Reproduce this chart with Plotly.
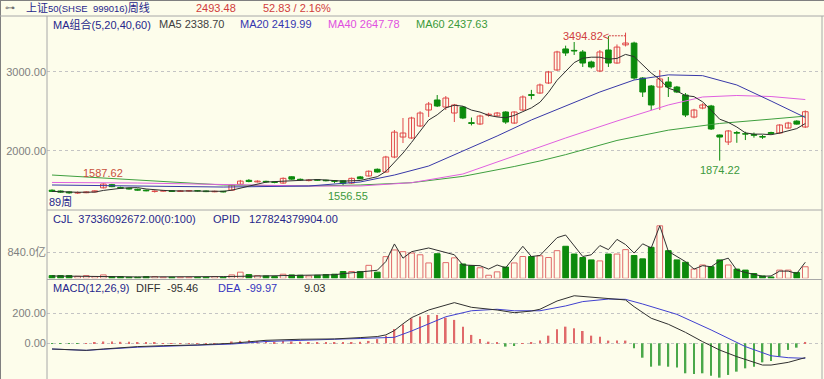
import plotly.graph_objects as go
import pandas as pd

W, H = 824, 379
FONT = "Liberation Sans, Noto Sans CJK SC, sans-serif"
BG = "#fdfdeb"
RED = "#e04848"
GREEN = "#0c8a0c"

# ---------------- data (weekly bars, index 0..88) ----------------
opens = [1500, 1490, 1478, 1464, 1468, 1478, 1530, 1570, 1535, 1525,
         1512, 1500, 1485, 1488, 1494, 1484, 1490, 1494, 1490, 1480,
         1486, 1500, 1575, 1625, 1605, 1612, 1605, 1590, 1670, 1638,
         1622, 1632, 1626, 1620, 1620, 1590, 1668, 1680, 1765, 1730,
         1920, 2173, 2161, 2313, 2515, 2642, 2553, 2477, 2553, 2355,
         2338, 2450, 2440, 2490, 2350, 2515, 2710, 2730, 2857, 3022,
         3288, 3270, 3250, 3123, 3009, 3275, 3110, 3340, 3363, 2920,
         2819, 2806, 2870, 2806, 2705, 2426, 2540, 2566, 2199, 2110,
         2230, 2215, 2205, 2180, 2230, 2224, 2287, 2375, 2300]
highs = [1510, 1496, 1485, 1485, 1486, 1498, 1587.62, 1580, 1545, 1530,
         1520, 1508, 1498, 1500, 1500, 1500, 1502, 1500, 1496, 1494,
         1492, 1572, 1630, 1640, 1625, 1620, 1612, 1662, 1675, 1648,
         1640, 1640, 1632, 1628, 1625, 1660, 1680, 1750, 1775, 1935,
         2262, 2414, 2430, 2500, 2617, 2705, 2692, 2592, 2565, 2420,
         2455, 2480, 2490, 2500, 2500, 2700, 2770, 2850, 3010, 3265,
         3330, 3376, 3275, 3140, 3275, 3450, 3345, 3494.82, 3380, 2932,
         2832, 3022, 2933, 2820, 2730, 2530, 2600, 2580, 2205, 2262,
         2250, 2240, 2230, 2200, 2240, 2335, 2365, 2385, 2510]
lows = [1478, 1468, 1455, 1452, 1462, 1472, 1522, 1538, 1518, 1508,
        1495, 1486, 1470, 1482, 1478, 1478, 1484, 1484, 1476, 1474,
        1472, 1495, 1565, 1600, 1598, 1595, 1588, 1582, 1632, 1620,
        1612, 1618, 1612, 1590, 1556.55, 1580, 1640, 1672, 1722, 1725,
        1905, 2097, 2150, 2300, 2427, 2553, 2515, 2363, 2400, 2320,
        2325, 2430, 2430, 2340, 2340, 2505, 2650, 2720, 2845, 3010,
        3200, 3212, 3060, 3040, 2995, 3060, 3100, 3320, 2900, 2680,
        2515, 2515, 2680, 2730, 2426, 2410, 2525, 2262, 1874.22, 2072,
        2100, 2135, 2165, 2150, 2210, 2215, 2280, 2330, 2288]
closes = [1485, 1475, 1466, 1470, 1478, 1492, 1578, 1545, 1525, 1515,
          1500, 1492, 1488, 1494, 1484, 1492, 1494, 1490, 1482, 1486,
          1478, 1565, 1615, 1610, 1615, 1605, 1598, 1650, 1640, 1630,
          1628, 1626, 1620, 1612, 1588, 1650, 1645, 1740, 1730, 1920,
          2235, 2224, 2414, 2477, 2591, 2566, 2667, 2579, 2414, 2345,
          2439, 2462, 2477, 2363, 2490, 2680, 2700, 2832, 2996, 3250,
          3237, 3262, 3110, 3060, 3250, 3110, 3312, 3363, 2920, 2743,
          2579, 2908, 2806, 2743, 2452, 2515, 2579, 2275, 2173, 2250,
          2222, 2210, 2195, 2172, 2215, 2325, 2350, 2337, 2493.48]
# volume in 亿
volumes = [88, 88, 88, 66, 88, 55, 110, 55, 55, 33,
           33, 55, 55, 33, 33, 33, 33, 33, 33, 55,
           33, 110, 198, 120, 88, 77, 55, 132, 110, 99,
           77, 99, 120, 132, 220, 220, 220, 419, 198, 700,
           915, 860, 817, 760, 496, 794, 506, 661, 463, 407,
           341, 99, 208, 364, 496, 704, 704, 728, 671, 893,
           1035, 784, 671, 595, 562, 784, 784, 926, 737, 628,
           1002, 1696, 893, 595, 519, 298, 430, 374, 595, 430,
           298, 265, 155, 76, 43, 265, 265, 188, 373.36]
vol_line_idx = [0, 10, 20, 30, 33, 34, 35, 36, 37, 38, 39, 40, 41, 42, 44, 47, 48, 50,
                51, 52, 53, 55, 56, 57, 59, 60, 62, 63, 64, 65, 66, 67, 68, 69, 70,
                71, 72, 73, 74, 75, 76, 77, 78, 79, 80, 81, 83, 84, 85, 86, 87, 88]
vol_line_val = [75, 45, 55, 100, 115, 150, 180, 210, 230, 260, 540, 1110, 650, 860, 980, 760, 430, 407,
                298, 430, 341, 1035, 704, 737, 1312, 1399, 704, 761, 1058, 926, 1257, 1091, 817, 1114, 981,
                1696, 870, 704, 539, 298, 407, 374, 562, 651, 265, 188, 66, 76, 232, 232, 155, 519]

ma20_idx = [0, 10, 20, 30, 36, 40, 44, 48, 52, 56, 60, 64, 68, 72, 76, 80, 84, 88]
ma20_val = [1566, 1553, 1540, 1553, 1604, 1692, 1806, 1996, 2186, 2389, 2566, 2743, 2895, 2960,
            2950, 2832, 2629, 2419.99]
ma40_idx = [0, 10, 20, 30, 36, 42, 48, 54, 60, 66, 72, 76, 80, 84, 88]
ma40_val = [1598, 1591, 1572, 1553, 1553, 1595, 1705, 1932, 2161, 2376, 2579, 2680, 2699, 2686, 2647.78]
ma60_idx = [0, 10, 20, 30, 36, 42, 48, 54, 57, 60, 66, 72, 78, 84, 88]
ma60_val = [1692, 1629, 1566, 1553, 1566, 1595, 1675, 1800, 1870, 1950, 2130, 2260, 2345, 2400, 2437.63]

diff_idx = [0, 2, 4, 6, 8, 10, 13, 17, 21, 25, 29, 33, 36, 38, 39, 40, 41, 42, 44, 47, 49,
            52, 54, 56, 57, 59, 61, 63, 64, 66, 67, 68, 70, 72, 74, 76, 78, 80, 83, 84, 86, 88]
diff_val = [-38, -45, -47, -38, -29, -22, -16, -11, 0, 20, 27, 29, 38, 45, 56, 85, 130, 171, 222, 271, 240,
            222, 204, 215, 227, 282, 317, 307, 307, 295, 289, 244, 167, 127, 73, 11, -45, -89, -145, -145,
            -127, -95.46]
dea_idx = [0, 4, 10, 17, 21, 25, 29, 33, 36, 38, 40, 42, 44, 46, 49, 52, 54, 57, 60, 62, 65, 67, 69,
           73, 77, 81, 84, 86, 88]
dea_val = [-38, -47, -26, -14, -5, 12, 22, 27, 32, 34, 40, 82, 127, 177, 217, 227, 217, 217, 249, 278,
           295, 293, 262, 193, 89, -22, -83, -96, -99.97]
macd_hist = [-3, -3, -3, -3, 2, 4, 12, 12, 10, 10,
             8, 8, 8, 2, 1, 1, 1, 1, 1, 1,
             2, 12, 16, 20, 15, 15, 10, 16, 12, 10,
             8, 6, 4, 3, 4, 8, 10, 16, 28, 50,
             95, 125, 167, 178, 189, 189, 171, 156, 111, 56,
             29, 11, 4, -22, -18, 1, 4, 18, 51, 93,
             111, 100, 82, 51, 44, 18, 18, 18, -33, -96,
             -156, -149, -156, -162, -200, -204, -200, -216, -229, -211,
             -189, -167, -156, -127, -118, -89, -44, -29, 9.03]

idx = list(range(len(closes)))
ma5 = pd.Series(closes).rolling(5, min_periods=1).mean().tolist()

# ---------------- layout helpers ----------------
def px_x(x):
    return x / W


def px_y(y):
    return 1 - y / H


PRICE_DOM = [px_y(209), px_y(18)]
VOL_DOM = [px_y(278.3), px_y(210)]
MACD_DOM = [0, px_y(280)]

fig = go.Figure()

# ---------------- candles ----------------
up = [i for i in idx if closes[i] >= opens[i]]
dn = [i for i in idx if closes[i] < opens[i]]


def wick(ids):
    xs, ys = [], []
    for i in ids:
        xs += [i, i, None]
        ys += [lows[i], highs[i], None]
    return xs, ys


wx, wy = wick(up)
fig.add_trace(go.Scatter(x=wx, y=wy, mode="lines", line=dict(color=RED, width=1),
                         hoverinfo="skip", yaxis="y"))
wx, wy = wick(dn)
fig.add_trace(go.Scatter(x=wx, y=wy, mode="lines", line=dict(color=GREEN, width=1),
                         hoverinfo="skip", yaxis="y"))
fig.add_trace(go.Bar(x=up, y=[max(closes[i] - opens[i], 2) for i in up],
                     base=[opens[i] for i in up], width=0.66,
                     marker=dict(color=BG, line=dict(color=RED, width=1)), yaxis="y"))
fig.add_trace(go.Bar(x=dn, y=[max(opens[i] - closes[i], 2) for i in dn],
                     base=[closes[i] for i in dn], width=0.66,
                     marker=dict(color=GREEN, line=dict(color=GREEN, width=1)), yaxis="y"))

# moving averages
fig.add_trace(go.Scatter(x=ma60_idx, y=ma60_val, mode="lines", line=dict(color="#3f9f3f", width=1), yaxis="y"))
fig.add_trace(go.Scatter(x=ma40_idx, y=ma40_val, mode="lines", line=dict(color="#e060e0", width=1), yaxis="y"))
fig.add_trace(go.Scatter(x=ma20_idx, y=ma20_val, mode="lines", line=dict(color="#3838a8", width=1), yaxis="y"))
fig.add_trace(go.Scatter(x=idx, y=ma5, mode="lines", line=dict(color="#303030", width=1), yaxis="y"))

# ---------------- volume ----------------
fig.add_trace(go.Bar(x=up, y=[volumes[i] for i in up], width=0.66,
                     marker=dict(color=BG, line=dict(color="#e06a6a", width=1)), yaxis="y2"))
fig.add_trace(go.Bar(x=dn, y=[volumes[i] for i in dn], width=0.66,
                     marker=dict(color=GREEN, line=dict(color=GREEN, width=1)), yaxis="y2"))
fig.add_trace(go.Scatter(x=vol_line_idx, y=vol_line_val, mode="lines",
                         line=dict(color="#303030", width=1), yaxis="y2"))

# ---------------- MACD ----------------
fig.add_trace(go.Bar(x=idx, y=macd_hist, width=0.2,
                     marker=dict(color=["#e06a6a" if v >= 0 else "#4aa84a" for v in macd_hist], line=dict(width=0)),
                     yaxis="y3"))
fig.add_trace(go.Scatter(x=dea_idx, y=dea_val, mode="lines", line=dict(color="#4040d0", width=1), yaxis="y3"))
fig.add_trace(go.Scatter(x=diff_idx, y=diff_val, mode="lines", line=dict(color="#303030", width=1), yaxis="y3"))

grid = dict(showgrid=True, gridcolor="#c4c4c4", griddash="3px,3px", gridwidth=1, zeroline=False,
            showline=False, ticks="", tickfont=dict(family=FONT, size=11, color="#808080"),
            fixedrange=True)

fig.update_layout(
    width=W, height=H, margin=dict(l=0, r=0, t=0, b=0),
    paper_bgcolor=BG, plot_bgcolor=BG, showlegend=False, barmode="overlay",
    font=dict(family=FONT, size=11),
    xaxis=dict(domain=[px_x(47), px_x(822)], range=[-0.584, 89.95], showgrid=False,
               zeroline=False, showticklabels=False, showline=False, ticks=""),
    yaxis=dict(domain=PRICE_DOM, range=[1262, 3680], tickvals=[2000, 3000],
               ticktext=["2000.00", "3000.00"], anchor="x", **grid),
    yaxis2=dict(domain=VOL_DOM, range=[0, 2207], tickvals=[840], ticktext=["840.0亿"],
                anchor="x", **grid),
    yaxis3=dict(domain=MACD_DOM, range=[-238, 422], tickvals=[0, 200],
                ticktext=["0.00", "200.00"], anchor="x", **grid),
)

# ---------------- frame lines ----------------
LC = "#a8a8a8"
shapes = [
    dict(type="line", xref="paper", yref="paper", x0=0, x1=1, y0=px_y(0.5), y1=px_y(0.5), line=dict(color="#808080", width=1)),
    dict(type="line", xref="paper", yref="paper", x0=px_x(0.5), x1=px_x(0.5), y0=0, y1=1, line=dict(color="#808080", width=1)),
    dict(type="line", xref="paper", yref="paper", x0=0, x1=1, y0=px_y(16), y1=px_y(16), line=dict(color=LC, width=1)),
    dict(type="line", xref="paper", yref="paper", x0=px_x(47), x1=px_x(47), y0=0, y1=px_y(16), line=dict(color=LC, width=1)),
    dict(type="line", xref="paper", yref="paper", x0=px_x(47), x1=px_x(822), y0=px_y(210), y1=px_y(210), line=dict(color=LC, width=1)),
    dict(type="line", xref="paper", yref="paper", x0=px_x(47), x1=px_x(822), y0=px_y(279.5), y1=px_y(279.5), line=dict(color=LC, width=1)),
    dict(type="line", xref="paper", yref="paper", x0=px_x(822), x1=px_x(822), y0=0, y1=px_y(16), line=dict(color=LC, width=1)),
]
# dashed leader of the peak label
pk = highs.index(max(highs))
shapes.append(dict(type="line", xref="x", yref="y", x0=pk - 1.95, x1=pk, y0=max(highs) - 40, y1=max(highs) - 40,
                   line=dict(color="#d04040", width=1, dash="2px,1px")))
fig.update_layout(shapes=shapes)


def ann(x, y, text, color, size=11, xanchor="left"):
    return dict(x=px_x(x), y=px_y(y), xref="paper", yref="paper", text=text, showarrow=False,
                xanchor=xanchor, yanchor="middle", font=dict(family=FONT, size=size, color=color))


NAVY = "#26268c"
anns = [
    ann(3, 7, "⊶", "#707070", 10),
    ann(24, 7.5, "上证<span style='font-size:9.5px'>50(SHSE  999016)</span>周线", NAVY),
    ann(194, 7.5, "2493.48", "#d03c3c"),
    ann(261, 7.5, "52.83 / 2.16%", "#d03c3c"),
    ann(51, 24, "MA组合(5,20,40,60)", NAVY),
    ann(157, 24, "MA5 2338.70", "#404040"),
    ann(238, 24, "MA20 2419.99", "#3535b0"),
    ann(326, 24, "MA40 2647.78", "#e050e0"),
    ann(414, 24, "MA60 2437.63", "#3a9a3a"),
    ann(47, 202, "89周", NAVY),
    ann(51, 219, "CJL  37336092672.00(0:100)", NAVY),
    ann(211, 219, "OPID   127824379904.00", NAVY),
    ann(51, 288, "MACD(12,26,9)", NAVY),
    ann(134, 288, "DIFF", "#303030"),
    ann(165, 288, "-95.46", "#303030"),
    ann(216, 288, "DEA", "#3535c0"),
    ann(244, 288, "-99.97", "#3535c0"),
    ann(302, 288, "9.03", "#303030"),
]
lo1 = lows.index(min(lows[30:40]))
lo2 = lows.index(min(lows[70:]))
hi1 = highs.index(max(highs[:20]))
anns += [
    dict(x=hi1, y=highs[hi1], xref="x", yref="y", text=f"{highs[hi1]:.2f}", showarrow=False,
         xanchor="center", yanchor="bottom", yshift=2, font=dict(family=FONT, size=11, color="#c8503c")),
    dict(x=lo1, y=lows[lo1], xref="x", yref="y", text=f"{lows[lo1]:.2f}", showarrow=False,
         xanchor="center", yanchor="top", xshift=5, yshift=-2, font=dict(family=FONT, size=11, color="#3c9a3c")),
    dict(x=pk - 1.95, y=max(highs) - 40, xref="x", yref="y", text=f"{max(highs):.2f}<", showarrow=False,
         xanchor="right", yanchor="middle", xshift=2, font=dict(family=FONT, size=11, color="#d04040")),
    dict(x=lo2, y=lows[lo2], xref="x", yref="y", text=f"{lows[lo2]:.2f}", showarrow=False,
         xanchor="center", yanchor="top", yshift=-1, font=dict(family=FONT, size=11, color="#3c9a3c")),
]
fig.update_layout(annotations=anns)

fig.write_html("out.html", config={"displayModeBar": False},
               post_script="document.body.style.margin='0';document.body.style.padding='0';")
